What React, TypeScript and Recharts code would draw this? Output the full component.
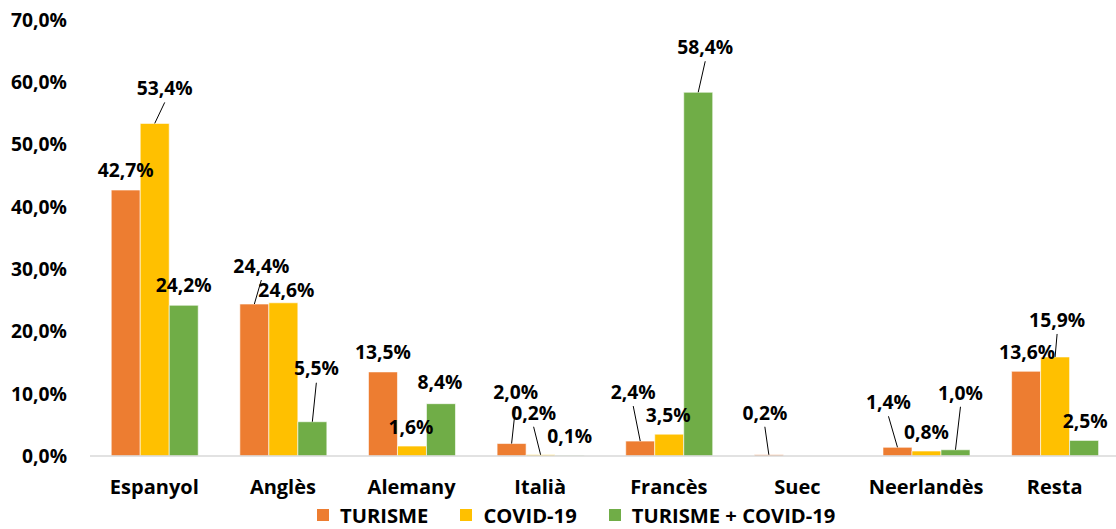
import { Bar, BarChart, LabelList, XAxis, YAxis } from "recharts";

const categories = ["Espanyol", "Anglès", "Alemany", "Italià", "Francès", "Suec", "Neerlandès", "Resta"];
const turisme = [42.7, 24.4, 13.5, 2.0, 2.4, 0.2, 1.4, 13.6];
const covid = [53.4, 24.6, 1.6, 0.2, 3.5, null, 0.8, 15.9];
const turismeCovid = [24.2, 5.5, 8.4, 0.1, 58.4, null, 1.0, 2.5];
const yTicks = [0, 10, 20, 30, 40, 50, 60, 70];

const series = [
  { key: "turisme", name: "TURISME", color: "#ED7D31", values: turisme },
  { key: "covid", name: "COVID-19", color: "#FFC000", values: covid },
  { key: "turismeCovid", name: "TURISME + COVID-19", color: "#70AD47", values: turismeCovid },
];

// label offsets from the top-centre of each bar: [dx, dy, leader]
const labelOffsets: Record<string, [number, number, boolean][]> = {
  turisme: [
    [0, -20, false], [7, -38, true], [0, -20, false], [4, -51, true],
    [-7, -49, true], [-4, -42, true], [-9, -45, true], [1, -19, false],
  ],
  covid: [
    [10, -35, true], [3, -13, false], [-1, -19, false], [-7, -42, true],
    [-1, -19, false], [0, 0, false], [0, -19, false], [2, -37, true],
  ],
  turismeCovid: [
    [0, -20, false], [4, -53, true], [-1, -21, false], [0, -19, false],
    [7, -45, true], [0, 0, false], [5, -57, true], [1, -19, false],
  ],
};

const data = categories.map((name, i) => ({
  name,
  turisme: turisme[i],
  covid: covid[i],
  turismeCovid: turismeCovid[i],
}));

const FONT = "'Open Sans', 'Noto Sans', sans-serif";
const fmt = (v: number) => v.toFixed(1).replace(".", ",") + "%";

// LabelList skips null entries, so map its index back to the category index
const presentIdx = (values: (number | null)[]) =>
  values.map((v, i) => (v == null ? -1 : i)).filter((i) => i >= 0);

const makeLabel = (key: string, values: (number | null)[]) => {
  const idx = presentIdx(values);
  return (props: any) => {
    const { x, y, width, value, index } = props;
    if (value == null) return null;
    const [dx, dy, leader] = labelOffsets[key][idx[index] ?? index];
    const cx = Number(x) + Number(width) / 2;
    const top = Number(y);
    const lx = cx + dx;
    const ly = top + dy;
    return (
      <g>
        {leader && (
          <line x1={cx} y1={top} x2={lx} y2={ly + 14} stroke="#000" strokeWidth={1} />
        )}
        <text
          x={lx}
          y={ly}
          dy="0.35em"
          textAnchor="middle"
          fontFamily={FONT}
          fontWeight={700}
          fontSize={19.3}
          fill="#000"
        >
          {fmt(Number(value))}
        </text>
      </g>
    );
  };
};

export default function App() {
  return (
    <div
      style={{
        position: "absolute",
        left: 0,
        top: 0,
        width: 1116,
        height: 529,
        overflow: "hidden",
        background: "#fff",
      }}
    >
      <BarChart
        width={1120}
        height={529}
        data={data}
        margin={{ top: 20, right: 1, left: 0, bottom: 0 }}
        barCategoryGap="16.5%"
        barGap={0}
      >
        <XAxis
          dataKey="name"
          height={73}
          tickLine={false}
          tickSize={0}
          tickMargin={24}
          axisLine={{ stroke: "#D9D9D9", strokeWidth: 1.5 }}
          interval={0}
          tick={{ fontFamily: FONT, fontWeight: 700, fontSize: 20, fill: "#000" }}
        />
        <YAxis
          width={90}
          domain={[0, 70]}
          ticks={yTicks}
          tickFormatter={fmt}
          axisLine={false}
          tickLine={false}
          tickSize={0}
          tickMargin={23}
          tick={{ fontFamily: FONT, fontWeight: 700, fontSize: 19.3, fill: "#000" }}
        />
        {series.map((s) => (
          <Bar
            key={s.key}
            dataKey={s.key}
            name={s.name}
            fill={s.color}
            stroke="#fff"
            strokeOpacity={0.6}
            strokeWidth={1}
            isAnimationActive={false}
          >
            <LabelList dataKey={s.key} content={makeLabel(s.key, s.values)} />
          </Bar>
        ))}
      </BarChart>
      <div
        style={{
          position: "absolute",
          left: 317,
          top: 501,
          display: "flex",
          alignItems: "center",
          fontFamily: FONT,
          fontWeight: 700,
          fontSize: 20.2,
          color: "#000",
          whiteSpace: "nowrap",
        }}
      >
        {series.map((s, i) => (
          <div
            key={s.key}
            style={{ display: "flex", alignItems: "center", marginLeft: i === 0 ? 0 : 32 }}
          >
            <span
              style={{ width: 12, height: 12, background: s.color, display: "inline-block", marginRight: 11 }}
            />
            <span>{s.name}</span>
          </div>
        ))}
      </div>
    </div>
  );
}
